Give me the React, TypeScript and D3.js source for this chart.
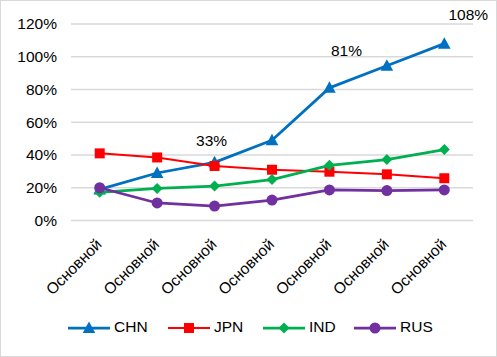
import React from "react";
import * as d3 from "d3";

const categories = ["Основной", "Основной", "Основной", "Основной", "Основной", "Основной", "Основной"];
const chn = [0.19, 0.29, 0.355, 0.49, 0.81, 0.945, 1.08];
const jpn = [0.41, 0.385, 0.333, 0.31, 0.298, 0.282, 0.258];
const ind = [0.172, 0.196, 0.21, 0.25, 0.337, 0.372, 0.433];
const rus = [0.2, 0.107, 0.088, 0.125, 0.187, 0.183, 0.187];
const yTicks = [0, 0.2, 0.4, 0.6, 0.8, 1.0, 1.2];
const seriesNames = ["CHN", "JPN", "IND", "RUS"];
const seriesColors = ["#0070C0", "#FF0000", "#00B050", "#7030A0"];
const dataLabels = [
  { index: 2, text: "33%", value: 0.33 },
  { index: 4, text: "81%", value: 0.81 },
  { index: 6, text: "108%", value: 1.08 },
];

const W = 497, H = 357;
const left = 71, right = 473, top = 24, bottom = 220.5;
const FONT = "'Liberation Sans', Arial, sans-serif";
const FS = 15.5;

function Marker({ kind, x, y, color }: { kind: number; x: number; y: number; color: string }) {
  if (kind === 0) {
    return <path d={`M${x},${y - 6.5}L${x + 6.3},${y + 5}L${x - 6.3},${y + 5}Z`} fill={color} />;
  }
  if (kind === 1) {
    return <rect x={x - 5} y={y - 5} width={10} height={10} fill={color} />;
  }
  if (kind === 2) {
    const s = 5.5;
    return <path d={`M${x},${y - s}L${x + s},${y}L${x},${y + s}L${x - s},${y}Z`} fill={color} />;
  }
  return <circle cx={x} cy={y} r={5.5} fill={color} />;
}

export default function App() {
  const x = d3.scaleBand<number>().domain(d3.range(categories.length)).range([left, right]);
  const cx = (i: number) => (x(i) as number) + x.bandwidth() / 2;
  const y = d3.scaleLinear().domain([0, 1.2]).range([bottom, top]);
  const series = [chn, jpn, ind, rus];
  const widths = [2.75, 2, 2.75, 2.75];
  const line = (vals: number[]) =>
    d3.line<number>().x((_, i) => cx(i)).y((d) => y(d))(vals) as string;
  const legendX = [68, 168, 263, 354];
  const legendY = 328;
  const labelOffsets = [
    { dx: -3, dy: -26 },
    { dx: 17, dy: -37 },
    { dx: 24, dy: -29 },
  ];

  return (
    <div style={{ position: "fixed", left: 0, top: 0 }}>
      <svg width={W} height={H} style={{ display: "block", fontFamily: FONT }}>
        <rect x={0.5} y={0.5} width={W - 1} height={H - 1} fill="#fff" stroke="#d9d9d9" strokeWidth={1} />
        {yTicks.map((t) => (
          <g key={t}>
            <line x1={left} x2={right} y1={y(t)} y2={y(t)} stroke="#d9d9d9" strokeWidth={1.3} />
            <text x={57} y={y(t)} dy="0.35em" textAnchor="end" fontSize={FS} fill="#000">
              {d3.format(".0%")(t)}
            </text>
          </g>
        ))}
        {categories.map((c, i) => (
          <text
            key={i}
            transform={`translate(${cx(i) + 3},${bottom + 25}) rotate(-45)`}
            textAnchor="end"
            fontSize={FS}
            fill="#000"
          >
            {c}
          </text>
        ))}
        {series.map((vals, s) => (
          <g key={s}>
            <path d={line(vals)} fill="none" stroke={seriesColors[s]} strokeWidth={widths[s]} strokeLinejoin="round" />
            {vals.map((v, i) => (
              <Marker key={i} kind={s} x={cx(i)} y={y(v)} color={seriesColors[s]} />
            ))}
          </g>
        ))}
        {dataLabels.map((l, k) => (
          <text
            key={k}
            x={cx(l.index) + labelOffsets[k].dx}
            y={y(l.value) + labelOffsets[k].dy}
            dy="0.35em"
            textAnchor="middle"
            fontSize={FS}
            fill="#000"
          >
            {l.text}
          </text>
        ))}
        {seriesNames.map((n, s) => (
          <g key={n}>
            <line x1={legendX[s]} x2={legendX[s] + 42} y1={legendY} y2={legendY} stroke={seriesColors[s]} strokeWidth={widths[s]} />
            <Marker kind={s} x={legendX[s] + 21} y={legendY} color={seriesColors[s]} />
            <text x={legendX[s] + 46} y={legendY - 1} dy="0.35em" fontSize={FS} fill="#000">
              {n}
            </text>
          </g>
        ))}
      </svg>
    </div>
  );
}
